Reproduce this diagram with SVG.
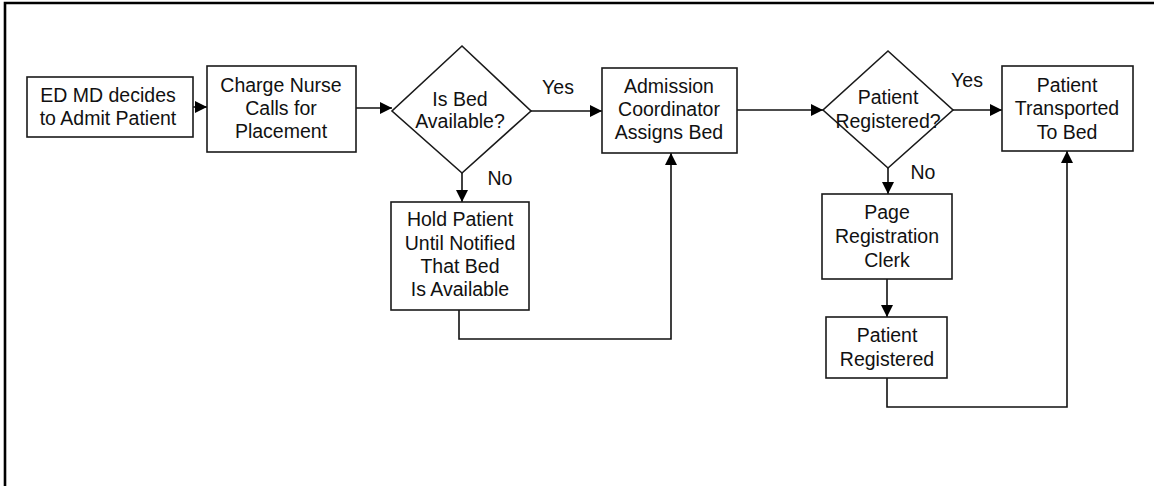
<svg xmlns="http://www.w3.org/2000/svg" width="1154" height="486" viewBox="0 0 1154 486">
<style>
.box{fill:#fff;stroke:#1a1a1a;stroke-width:1.6}
.t{font-family:"Liberation Sans",Arial,sans-serif;font-size:19.5px;fill:#111;text-anchor:middle}
.c{fill:none;stroke:#111;stroke-width:1.6}
</style>
<defs>
<marker id="ah" markerUnits="userSpaceOnUse" markerWidth="12" markerHeight="12" viewBox="0 0 12 12" refX="12" refY="6" orient="auto">
<path d="M0,0 L12,6 L0,12 Z" fill="#000"/>
</marker>
</defs>
<rect width="1154" height="486" fill="#fff"/>
<g id="frame"><path d="M5,486 V3 H1154" fill="none" stroke="#000" stroke-width="2.6"/></g>
<g id="connectors">
<path class="c" d="M193,107 H207" marker-end="url(#ah)"/>
<path class="c" d="M356,108 H392" marker-end="url(#ah)"/>
<path class="c" d="M531,111 H602" marker-end="url(#ah)"/>
<path class="c" d="M462,173 V202" marker-end="url(#ah)"/>
<path class="c" d="M459,310 V339 H671 V153" marker-end="url(#ah)"/>
<path class="c" d="M737,110 H823" marker-end="url(#ah)"/>
<path class="c" d="M953,110 H1002" marker-end="url(#ah)"/>
<path class="c" d="M888,168 V194" marker-end="url(#ah)"/>
<path class="c" d="M887,279 V317" marker-end="url(#ah)"/>
<path class="c" d="M887,378 V407 H1067 V151" marker-end="url(#ah)"/>
<text class="t" x="558" y="94">Yes</text>
<text class="t" x="500" y="185">No</text>
<text class="t" x="967" y="87">Yes</text>
<text class="t" x="923" y="179">No</text>
</g>
<g id="n1"><rect class="box" x="27" y="77" width="166" height="60"/>
<text class="t" x="108" y="102">ED MD decides</text><text class="t" x="108" y="125">to Admit Patient</text></g>
<g id="n2"><rect class="box" x="207" y="66" width="149" height="86"/>
<text class="t" x="281" y="92">Charge Nurse</text><text class="t" x="281" y="115">Calls for</text><text class="t" x="281" y="138">Placement</text></g>
<g id="d1"><polygon class="box" points="462,46 531,111 462,173 392,111"/>
<text class="t" x="460" y="106">Is Bed</text><text class="t" x="460" y="128">Available?</text></g>
<g id="n3"><rect class="box" x="602" y="68" width="135" height="85"/>
<text class="t" x="669" y="93">Admission</text><text class="t" x="669" y="116">Coordinator</text><text class="t" x="669" y="139">Assigns Bed</text></g>
<g id="n4"><rect class="box" x="391" y="202" width="138" height="108"/>
<text class="t" x="460" y="226">Hold Patient</text><text class="t" x="460" y="250">Until Notified</text><text class="t" x="460" y="273">That Bed</text><text class="t" x="460" y="296">Is Available</text></g>
<g id="d2"><polygon class="box" points="888,51 953,110 888,168 823,110"/>
<text class="t" x="888" y="104">Patient</text><text class="t" x="888" y="128">Registered?</text></g>
<g id="n5"><rect class="box" x="1002" y="66" width="131" height="85"/>
<text class="t" x="1067" y="92">Patient</text><text class="t" x="1067" y="115">Transported</text><text class="t" x="1067" y="139">To Bed</text></g>
<g id="n6"><rect class="box" x="822" y="194" width="130" height="85"/>
<text class="t" x="887" y="219">Page</text><text class="t" x="887" y="243">Registration</text><text class="t" x="887" y="267">Clerk</text></g>
<g id="n7"><rect class="box" x="826" y="317" width="121" height="61"/>
<text class="t" x="887" y="342">Patient</text><text class="t" x="887" y="366">Registered</text></g>
</svg>
